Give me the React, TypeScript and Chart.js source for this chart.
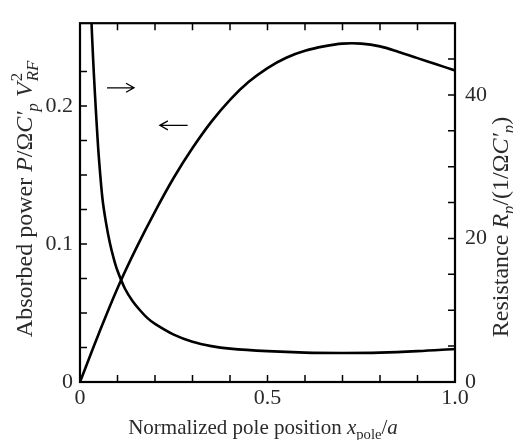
import { useEffect, useRef } from 'react';
import { Chart, registerables } from 'chart.js';

Chart.register(...registerables);

// ---- data ----
const powerX = [0, 0.05, 0.1, 0.15, 0.2, 0.25, 0.3, 0.35, 0.4, 0.45, 0.5, 0.55, 0.6, 0.65, 0.7, 0.75, 0.8, 0.85, 0.9, 0.95, 1.0];
const powerY = [0, 0.035, 0.068, 0.097, 0.1235, 0.148, 0.1695, 0.1885, 0.2045, 0.2175, 0.2275, 0.235, 0.24, 0.2432, 0.2452, 0.2452, 0.2432, 0.2392, 0.2347, 0.2302, 0.2258];

const resX = [0.026, 0.03, 0.035, 0.04, 0.045, 0.05, 0.06, 0.07, 0.08, 0.09, 0.1, 0.12, 0.14, 0.16, 0.18, 0.2, 0.25, 0.3, 0.35, 0.4, 0.5, 0.6, 0.7, 0.8, 0.9, 1.0];
const resY = [58, 51, 45, 40, 35.5, 31.5, 25.5, 22, 19.3, 17.2, 15.5, 13, 11.3, 10, 8.9, 8.1, 6.6, 5.6, 5.0, 4.65, 4.3, 4.1, 4.05, 4.1, 4.3, 4.6];

const xLabelValues = [0, 0.5, 1.0];
const xLabelTexts = ['0', '0.5', '1.0'];
const leftLabelValues = [0, 0.1, 0.2];
const leftLabelTexts = ['0', '0.1', '0.2'];
const rightLabelValues = [0, 20, 40];
const rightLabelTexts = ['0', '20', '40'];

// arrows: [xTail, xTip, yValue, axisId]
const arrowRight = [0.072, 0.144, 41, 'y1'];
const arrowLeft = [0.287, 0.213, 0.186, 'y'];

type Seg = { t?: string; it?: boolean; sub?: boolean; sup?: boolean; stackSup?: string; stackSub?: string };

const xTitle: Seg[] = [
  { t: 'Normalized pole position ' },
  { t: 'x', it: true },
  { t: 'pole', sub: true },
  { t: '/' },
  { t: 'a', it: true },
];
const leftTitle: Seg[] = [
  { t: 'Absorbed power ' },
  { t: 'P', it: true },
  { t: '/Ω' },
  { t: 'C′', it: true },
  { t: 'p', it: true, sub: true },
  { t: ' ' },
  { t: 'V', it: true },
  { stackSup: '2', stackSub: 'RF' },
];
const rightTitle: Seg[] = [
  { t: 'Resistance ' },
  { t: 'R', it: true },
  { t: 'p', it: true, sub: true },
  { t: '/(1/Ω' },
  { t: 'C′', it: true },
  { t: 'p', it: true, sub: true },
  { t: ')' },
];

const FONT = "'Liberation Serif'";
const TEXT_COLOR = '#2a2a2a';

function fontStr(size: number, italic?: boolean) {
  return `${italic ? 'italic ' : ''}${size}px ${FONT}`;
}

function drawRich(ctx: CanvasRenderingContext2D, segs: Seg[], cx: number, cy: number, angle: number, F: number) {
  const small = F * 0.7;
  const widths = segs.map((s) => {
    if (s.stackSup !== undefined) {
      ctx.font = fontStr(small, false);
      const a = ctx.measureText(s.stackSup).width;
      ctx.font = fontStr(small, true);
      const b = ctx.measureText(s.stackSub || '').width;
      return Math.max(a, b) + 1;
    }
    ctx.font = fontStr(s.sub || s.sup ? small : F, s.it);
    return ctx.measureText(s.t || '').width;
  });
  const total = widths.reduce((a, b) => a + b, 0);
  ctx.save();
  ctx.translate(cx, cy);
  ctx.rotate(angle);
  ctx.fillStyle = TEXT_COLOR;
  ctx.textBaseline = 'alphabetic';
  ctx.textAlign = 'left';
  let x = -total / 2;
  const base = F * 0.33;
  segs.forEach((s, i) => {
    if (s.stackSup !== undefined) {
      ctx.font = fontStr(small, false);
      ctx.fillText(s.stackSup, x + 1, base - F * 0.42);
      ctx.font = fontStr(small, true);
      ctx.fillText(s.stackSub || '', x + 1, base + F * 0.25);
    } else {
      ctx.font = fontStr(s.sub || s.sup ? small : F, s.it);
      const dy = s.sub ? F * 0.25 : s.sup ? -F * 0.42 : 0;
      ctx.fillText(s.t || '', x, base + dy);
    }
    x += widths[i];
  });
  ctx.restore();
}

function labelFor(values: number[], texts: string[]) {
  return (v: number | string) => {
    const n = Number(v);
    const i = values.findIndex((a) => Math.abs(a - n) < 1e-9);
    return i >= 0 ? texts[i] : '';
  };
}

const framePlugin = {
  id: 'framePlugin',
  afterDraw(chart: any) {
    const ctx: CanvasRenderingContext2D = chart.ctx;
    const { left, right, top, bottom } = chart.chartArea;
    const xs = chart.scales.x;
    const yl = chart.scales.y;
    const yr = chart.scales.y1;
    const TL = 7;
    ctx.save();
    ctx.strokeStyle = '#000';
    ctx.lineWidth = 1.5;
    ctx.beginPath();
    xs.ticks.forEach((t: any) => {
      const p = xs.getPixelForValue(t.value);
      if (p <= left + 1 || p >= right - 1) return;
      ctx.moveTo(p, bottom);
      ctx.lineTo(p, bottom - TL);
      ctx.moveTo(p, top);
      ctx.lineTo(p, top + TL);
    });
    yl.ticks.forEach((t: any) => {
      const p = yl.getPixelForValue(t.value);
      if (p >= bottom - 1 || p <= top + 1) return;
      ctx.moveTo(left, p);
      ctx.lineTo(left + TL, p);
    });
    yr.ticks.forEach((t: any) => {
      const p = yr.getPixelForValue(t.value);
      if (p >= bottom - 1 || p <= top + 1) return;
      ctx.moveTo(right, p);
      ctx.lineTo(right - TL, p);
    });
    ctx.stroke();

    ctx.lineWidth = 2.2;
    ctx.strokeRect(left, top, right - left, bottom - top);

    // arrows
    ctx.lineWidth = 1.3;
    [arrowRight, arrowLeft].forEach((a) => {
      const x0 = xs.getPixelForValue(a[0] as number);
      const x1 = xs.getPixelForValue(a[1] as number);
      const sc = chart.scales[a[3] as string];
      const y = sc.getPixelForValue(a[2] as number);
      const dir = x1 > x0 ? 1 : -1;
      ctx.beginPath();
      ctx.moveTo(x0, y);
      ctx.lineTo(x1, y);
      ctx.moveTo(x1 - dir * 8, y - 4.5);
      ctx.lineTo(x1, y);
      ctx.lineTo(x1 - dir * 8, y + 4.5);
      ctx.stroke();
    });
    ctx.restore();

    drawRich(ctx, xTitle, 263, 427, 0, 21);
    drawRich(ctx, leftTitle, 24, 199, -Math.PI / 2, 24);
    drawRich(ctx, rightTitle, 500, 227, -Math.PI / 2, 24);
  },
};

export default function App() {
  const ref = useRef<HTMLCanvasElement | null>(null);
  useEffect(() => {
    document.body.style.margin = '0';
    let chart: Chart | null = null;
    let cancelled = false;
    const build = () => {
      if (cancelled || !ref.current) return;
      const tickFont = { family: FONT, size: 22 };
      const grid = { display: false, drawTicks: false };
      chart = new Chart(ref.current, {
        type: 'line',
        data: {
          datasets: [
            {
              label: 'Absorbed power',
              data: powerX.map((x, i) => ({ x, y: powerY[i] })),
              yAxisID: 'y',
              borderColor: '#000',
              borderWidth: 2.6,
              pointRadius: 0,
              tension: 0.35,
              fill: false,
            },
            {
              label: 'Resistance',
              data: resX.map((x, i) => ({ x, y: resY[i] })),
              yAxisID: 'y1',
              borderColor: '#000',
              borderWidth: 2.6,
              pointRadius: 0,
              tension: 0.35,
              fill: false,
            },
          ],
        },
        options: {
          animation: false,
          responsive: false,
          maintainAspectRatio: false,
          layout: { padding: { top: 10, left: 0, right: 0, bottom: 0 } },
          plugins: { legend: { display: false }, tooltip: { enabled: false } },
          scales: {
            x: {
              type: 'linear',
              position: 'bottom',
              min: 0,
              max: 1,
              grid,
              border: { display: false },
              ticks: {
                stepSize: 0.1,
                autoSkip: false,
                maxRotation: 0,
                padding: 3,
                color: TEXT_COLOR,
                font: tickFont,
                callback: labelFor(xLabelValues, xLabelTexts),
              },
              afterFit: (s: any) => {
                s.height = 58;
              },
            },
            y: {
              type: 'linear',
              position: 'left',
              min: 0,
              max: 0.26,
              grid,
              border: { display: false },
              ticks: {
                stepSize: 0.025,
                autoSkip: false,
                padding: 7,
                color: TEXT_COLOR,
                font: tickFont,
                callback: labelFor(leftLabelValues, leftLabelTexts),
              },
              afterFit: (s: any) => {
                s.width = 80;
              },
            },
            y1: {
              type: 'linear',
              position: 'right',
              min: 0,
              max: 50,
              grid,
              border: { display: false },
              ticks: {
                stepSize: 5,
                autoSkip: false,
                padding: 10,
                color: TEXT_COLOR,
                font: tickFont,
                callback: labelFor(rightLabelValues, rightLabelTexts),
              },
              afterFit: (s: any) => {
                s.width = 58;
              },
            },
          },
        } as any,
        plugins: [framePlugin],
      });
    };
    const fonts: any = (document as any).fonts;
    if (fonts && fonts.load) {
      Promise.all([
        fonts.load("20px 'Liberation Serif'"),
        fonts.load("italic 20px 'Liberation Serif'"),
      ])
        .catch(() => null)
        .then(build);
    } else {
      build();
    }
    return () => {
      cancelled = true;
      if (chart) chart.destroy();
    };
  }, []);
  return <canvas ref={ref} width={513} height={440} style={{ display: 'block', width: 513, height: 440 }} />;
}
